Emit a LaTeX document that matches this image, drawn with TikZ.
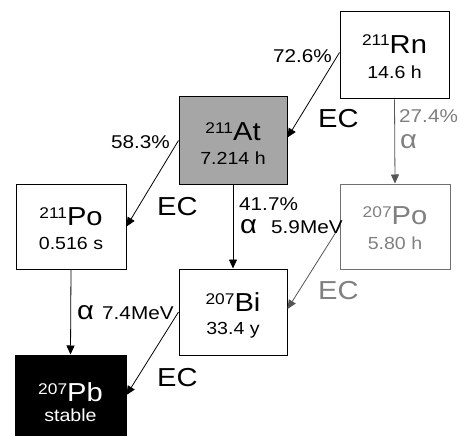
\documentclass[tikz,border=0pt]{standalone}
\usepackage{fontspec}
\setmainfont{Liberation Sans}[FakeStretch=1.12]
\usetikzlibrary{arrows.meta}
\definecolor{atgray}{HTML}{A6A6A6}
\definecolor{pogray}{HTML}{707070}
\definecolor{potext}{HTML}{808080}
\definecolor{arrgray}{HTML}{555555}
\newcommand\elsz{\fontsize{26}{26}\selectfont}
\newcommand\supsz{\fontsize{15.5}{15.5}\selectfont}
\newcommand\hlsz{\fontsize{17.5}{17.5}\selectfont}
\newcommand\labsz{\fontsize{18.5}{18.5}\selectfont}
\newcommand\iso[2]{\raisebox{7.5pt}{\supsz #1}\elsz #2}
\begin{document}
\begin{tikzpicture}[x=1pt,y=-1pt,
  box/.style={draw, line width=1pt, minimum width=#1, minimum height=86pt, inner sep=0pt},
  box/.default=108pt,
  el/.style={anchor=base, inner sep=0pt},
  hl/.style={anchor=base, inner sep=0pt, font=\hlsz},
  lab/.style={inner sep=0pt, font=\labsz},
  big/.style={inner sep=0pt, font=\elsz},
  arr/.style={-{Triangle[length=9pt,width=8pt]}, line width=0.8pt},
  garr/.style={arr, draw=arrgray, color=arrgray}]
\clip (0,0) rectangle (461,436);
\fill[white] (0,0) rectangle (461,436);
% boxes
\node[box=109pt, minimum height=87pt] (Rn) at (394.5,55.5) {};
\node[box=108pt, minimum height=87pt, fill=atgray] (At) at (233,140.5) {};
\node[box=110pt, minimum height=85pt] (PoA) at (71,226.5) {};
\node[box=110pt, minimum height=85pt, draw=pogray] (PoB) at (395,226.5) {};
\node[box=108pt] (Bi) at (233,312) {};
\node[box=111pt, fill=black] (Pb) at (70.5,398) {};
% box texts
\node[el] (RnT) at ([yshift=-42pt]Rn.north) {\iso{211}{Rn}};
\node[hl] (RnH) at ([yshift=-67pt]Rn.north) {14.6 h};
\node[el] (AtT) at ([yshift=-44pt]At.north) {\iso{211}{At}};
\node[hl] (AtH) at ([yshift=-68pt]At.north) {7.214 h};
\node[el] (PoAT) at ([yshift=-42pt]PoA.north) {\iso{211}{Po}};
\node[hl] (PoAH) at ([yshift=-66pt]PoA.north) {0.516 s};
\node[el, text=potext] (PoBT) at ([yshift=-41pt]PoB.north) {\iso{207}{Po}};
\node[hl, text=potext] (PoBH) at ([yshift=-66pt]PoB.north) {5.80 h};
\node[el] (BiT) at ([yshift=-43pt]Bi.north) {\iso{207}{Bi}};
\node[hl] (BiH) at ([yshift=-66pt]Bi.north) {33.4 y};
\node[el, text=white] (PbT) at ([yshift=-47pt]Pb.north) {\iso{207}{Pb}};
\node[hl, text=white] (PbH) at ([yshift=-67pt]Pb.north) {stable};
% arrows
\draw[arr] ([yshift=3pt]Rn.west) -- ([yshift=3pt]At.east);
\draw[garr] (Rn.south) -- (PoB.north);
\draw[arr] (At.west) -- (PoA.east);
\draw[arr] (At.south) -- (Bi.north);
\draw[garr] (PoB.west) -- ([yshift=3pt]Bi.east);
\draw[arr] (PoA.south) -- (Pb.north);
\draw[arr] (Bi.west) -- ([yshift=3pt]Pb.east);
% labels
\node[lab, anchor=base east] (l1) at (332,63) {72.6\%};
\node[big, anchor=base west] (l2) at (318,128) {EC};
\node[lab, anchor=base west, text=potext] (l3) at (399,122) {27.4\%};
\node[big, anchor=base west, text=potext] (l4) at (400,148) {α};
\node[lab, anchor=base east] (l5) at (170,148) {58.3\%};
\node[big, anchor=base west] (l6) at (157,215) {EC};
\node[lab, anchor=base west] (l7) at (239,210) {41.7\%};
\node[big, anchor=base west] (l8) at (240,233) {α};
\node[lab, anchor=base west] (l9) at (271,233) {5.9MeV};
\node[big, anchor=base west, text=potext] (l10) at (318,299) {EC};
\node[big, anchor=base west] (l11) at (77,319) {α};
\node[lab, anchor=base west] (l12) at (102,319) {7.4MeV};
\node[big, anchor=base west] (l13) at (157,386) {EC};
\end{tikzpicture}
\end{document}
